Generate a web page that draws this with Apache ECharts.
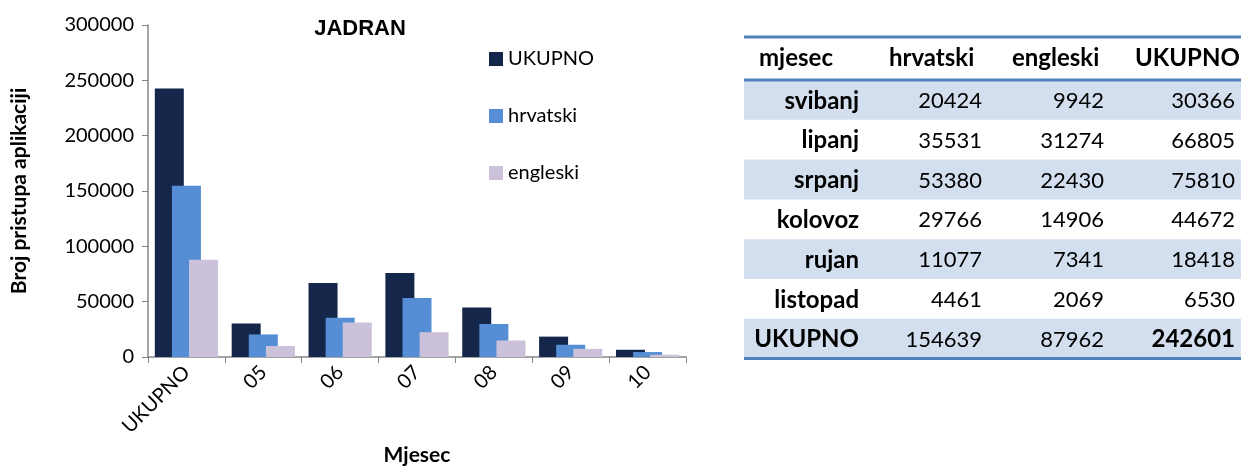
<!DOCTYPE html>
<html>
<head>
<meta charset="utf-8">
<script src="https://cdn.jsdelivr.net/npm/echarts@6/dist/echarts.min.js"></script>
<style>
html, body { margin: 0; padding: 0; background: #fff; }
#main_chart { width: 1241px; height: 466px; }
</style>
</head>
<body>
<div id="main_chart"></div>
<script>
// podaci
var kategorije = ['UKUPNO', '05', '06', '07', '08', '09', '10'];
var mjeseci = ['svibanj', 'lipanj', 'srpanj', 'kolovoz', 'rujan', 'listopad'];
var hrvatski = [20424, 35531, 53380, 29766, 11077, 4461];
var engleski = [9942, 31274, 22430, 14906, 7341, 2069];
var ukupno = [30366, 66805, 75810, 44672, 18418, 6530];
var zbrojHrvatski = 154639;
var zbrojEngleski = 87962;
var zbrojUkupno = 242601;
var zaglavlje = ['mjesec', 'hrvatski', 'engleski', 'UKUPNO'];
var yTicks = [0, 50000, 100000, 150000, 200000, 250000, 300000];

var font = 'Lato, "Noto Sans", sans-serif';
const myChart = echarts.init(document.getElementById('main_chart'));

// tablica desno
var tTop = 37, hdrH = 43, rowH = 39.8, tLeft = 744, tRight = 1241;
var colRight = [859, 982, 1104, 1235];
var hdrLeft = [759, 889, 1012, 1135];
var graphic = [];
var redovi = mjeseci.map(function (m, i) {
    return [m, hrvatski[i], engleski[i], ukupno[i]];
});
redovi.push(['UKUPNO', zbrojHrvatski, zbrojEngleski, zbrojUkupno]);

redovi.forEach(function (r, i) {
    var y0 = tTop + hdrH + i * rowH;
    if (i % 2 === 0) {
        graphic.push({ type: 'rect', shape: { x: tLeft, y: y0, width: tRight - tLeft, height: rowH },
            style: { fill: '#D3DFEE' }, silent: true });
    }
    r.forEach(function (v, j) {
        var bold = j === 0 || (i === redovi.length - 1 && j === 3);
        graphic.push({ type: 'text', x: colRight[j], y: y0 + rowH / 2 + 1,
            style: { text: String(v), textAlign: 'right', textVerticalAlign: 'middle',
                font: (bold ? 'bold 24px ' : '22px ') + font, fill: '#000' } });
    });
});
zaglavlje.forEach(function (h, j) {
    graphic.push({ type: 'text', x: hdrLeft[j], y: tTop + hdrH / 2,
        style: { text: h, textAlign: 'left', textVerticalAlign: 'middle',
            font: 'bold 24px ' + font, fill: '#000' } });
});
var tBottom = tTop + hdrH + redovi.length * rowH;
[tTop, tTop + hdrH, tBottom].forEach(function (y) {
    graphic.push({ type: 'line', shape: { x1: tLeft, y1: y, x2: tRight, y2: y },
        style: { stroke: '#4F81BD', lineWidth: 3 }, silent: true });
});

var option = {
    animation: false,
    textStyle: { fontFamily: font },
    title: {
        text: 'JADRAN', left: 355, top: 13, textAlign: 'center',
        textStyle: { fontFamily: '"Liberation Sans", Arial, sans-serif', fontSize: 22, fontWeight: 'bold', color: '#000' }
    },
    legend: {
        orient: 'vertical', left: 484, top: 44, itemGap: 37,
        itemWidth: 14, itemHeight: 14, icon: 'rect',
        textStyle: { fontSize: 20, color: '#000', fontFamily: font },
        data: ['UKUPNO', 'hrvatski', 'engleski']
    },
    grid: { left: 148, top: 25, right: 555, bottom: 109, containLabel: false, outerBoundsMode: 'none' },
    xAxis: {
        type: 'category', data: kategorije,
        name: 'Mjesec', nameLocation: 'middle', nameGap: 88,
        nameTextStyle: { fontSize: 21, fontWeight: 'bold', color: '#000', fontFamily: font },
        axisLine: { lineStyle: { color: '#868686', width: 1.5 } },
        axisTick: { show: true, length: 6, lineStyle: { color: '#868686' } },
        axisLabel: { rotate: 45, fontSize: 20, color: '#000', margin: 12, fontFamily: font, interval: 0 }
    },
    yAxis: {
        type: 'value', min: 0, max: 300000, interval: 50000,
        name: 'Broj pristupa aplikaciji', nameLocation: 'middle', nameGap: 118, nameRotate: 90,
        nameTextStyle: { fontSize: 21, fontWeight: 'bold', color: '#000', fontFamily: font },
        axisLine: { show: true, lineStyle: { color: '#868686', width: 1.5 } },
        axisTick: { show: true, length: 6, lineStyle: { color: '#868686' } },
        splitLine: { show: false },
        axisLabel: { fontSize: 20, color: '#000', margin: 14, fontFamily: font,
            formatter: function (v) { return String(v); } }
    },
    series: [
        { name: 'UKUPNO', type: 'bar', data: [zbrojUkupno].concat(ukupno),
          barWidth: 29, barGap: '-41%', itemStyle: { color: '#14274A' } },
        { name: 'hrvatski', type: 'bar', data: [zbrojHrvatski].concat(hrvatski),
          barWidth: 29, barGap: '-41%', itemStyle: { color: '#558ED5' } },
        { name: 'engleski', type: 'bar', data: [zbrojEngleski].concat(engleski),
          barWidth: 29, barGap: '-41%', itemStyle: { color: '#CCC1DA' } }
    ],
    graphic: graphic
};

myChart.setOption(option);
window.onresize = function () {
    myChart.resize();
};
</script>
</body>
</html>
